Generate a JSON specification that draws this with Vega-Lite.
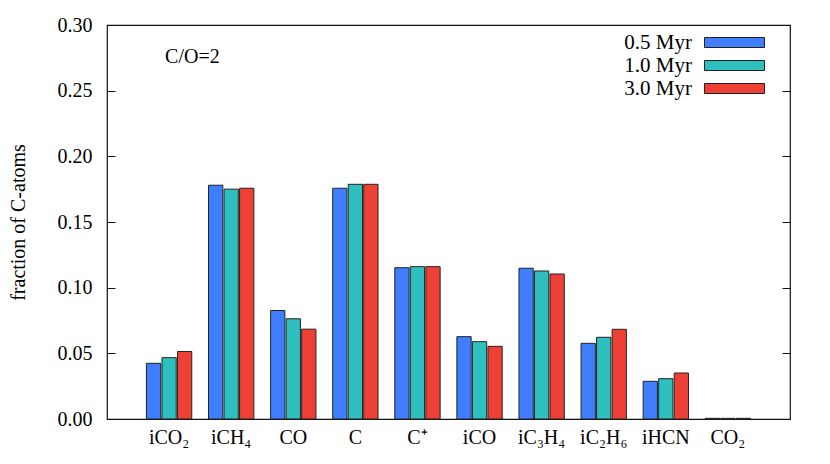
{
  "$schema": "https://vega.github.io/schema/vega-lite/v6.json",
  "autosize": {"type": "none"},
  "padding": {"left": 107, "top": 25, "right": 40, "bottom": 45},
  "width": 683,
  "height": 394,
  "background": "white",
  "config": {
    "view": {"stroke": "#111", "strokeWidth": 1.2},
    "font": "Liberation Serif",
    "axis": {"labelFont": "Liberation Serif", "titleFont": "Liberation Serif", "labelColor": "#000", "titleColor": "#000", "grid": false},
    "legend": {"labelFont": "Liberation Serif"}
  },
  "data": {
    "values": [
      {"species": "iCO₂", "epoch": "0.5 Myr", "value": 0.0424},
      {"species": "iCO₂", "epoch": "1.0 Myr", "value": 0.0467},
      {"species": "iCO₂", "epoch": "3.0 Myr", "value": 0.0514},
      {"species": "iCH₄", "epoch": "0.5 Myr", "value": 0.1780},
      {"species": "iCH₄", "epoch": "1.0 Myr", "value": 0.1750},
      {"species": "iCH₄", "epoch": "3.0 Myr", "value": 0.1757},
      {"species": "CO", "epoch": "0.5 Myr", "value": 0.0826},
      {"species": "CO", "epoch": "1.0 Myr", "value": 0.0763},
      {"species": "CO", "epoch": "3.0 Myr", "value": 0.0684},
      {"species": "C", "epoch": "0.5 Myr", "value": 0.1757},
      {"species": "C", "epoch": "1.0 Myr", "value": 0.1787},
      {"species": "C", "epoch": "3.0 Myr", "value": 0.1787},
      {"species": "C⁺", "epoch": "0.5 Myr", "value": 0.1152},
      {"species": "C⁺", "epoch": "1.0 Myr", "value": 0.1160},
      {"species": "C⁺", "epoch": "3.0 Myr", "value": 0.1160},
      {"species": "iCO", "epoch": "0.5 Myr", "value": 0.0627},
      {"species": "iCO", "epoch": "1.0 Myr", "value": 0.0589},
      {"species": "iCO", "epoch": "3.0 Myr", "value": 0.0553},
      {"species": "iC₃H₄", "epoch": "0.5 Myr", "value": 0.1148},
      {"species": "iC₃H₄", "epoch": "1.0 Myr", "value": 0.1127},
      {"species": "iC₃H₄", "epoch": "3.0 Myr", "value": 0.1104},
      {"species": "iC₂H₆", "epoch": "0.5 Myr", "value": 0.0576},
      {"species": "iC₂H₆", "epoch": "1.0 Myr", "value": 0.0622},
      {"species": "iC₂H₆", "epoch": "3.0 Myr", "value": 0.0683},
      {"species": "iHCN", "epoch": "0.5 Myr", "value": 0.0287},
      {"species": "iHCN", "epoch": "1.0 Myr", "value": 0.0307},
      {"species": "iHCN", "epoch": "3.0 Myr", "value": 0.0350},
      {"species": "CO₂", "epoch": "0.5 Myr", "value": 0.0005},
      {"species": "CO₂", "epoch": "1.0 Myr", "value": 0.0005},
      {"species": "CO₂", "epoch": "3.0 Myr", "value": 0.0005}
    ]
  },
  "layer": [
    {
      "mark": {"type": "bar", "stroke": "#222", "strokeWidth": 1},
      "encoding": {
        "x": {
          "field": "species", "type": "nominal", "sort": null,
          "scale": {"paddingInner": 0.27, "paddingOuter": 0.635},
          "axis": {"title": null, "ticks": false, "domain": false, "labelAngle": 0, "labelFontSize": 20, "labelPadding": 8}
        },
        "xOffset": {"field": "epoch", "type": "nominal", "scale": {"paddingInner": 0.08, "paddingOuter": 0}},
        "y": {
          "field": "value", "type": "quantitative",
          "scale": {"domain": [0, 0.3], "nice": false},
          "axis": {"title": "fraction of C-atoms", "values": [0, 0.05, 0.1, 0.15, 0.2, 0.25, 0.3], "format": ".2f", "labelFontSize": 20, "titleFontSize": 20, "titleFontWeight": "normal", "tickSize": -8, "tickColor": "#111", "labelPadding": 23, "titlePadding": 29, "domain": false}
        },
        "color": {
          "field": "epoch", "type": "nominal",
          "scale": {"domain": ["0.5 Myr", "1.0 Myr", "3.0 Myr"], "range": ["#3f7fff", "#2fbfbf", "#ee4035"]},
          "legend": {
            "title": null, "orient": "none", "legendX": 617, "legendY": 7,
            "symbolType": "M-3,-0.5L3,-0.5L3,0.5L-3,0.5Z", "symbolSize": 400,
            "symbolStrokeColor": "#222", "symbolStrokeWidth": 1, "symbolOpacity": 1,
            "labelAlign": "right", "labelOffset": -53, "labelFontSize": 21, "labelColor": "#000",
            "rowPadding": 1, "labelLimit": 200
          }
        }
      }
    },
    {
      "mark": {"type": "bar", "opacity": 0},
      "encoding": {
        "x": {"field": "species", "type": "nominal", "sort": null},
        "y": {"field": "value", "type": "quantitative", "axis": {"orient": "right", "labels": false, "title": null, "domain": false, "tickSize": -8, "tickColor": "#111", "values": [0, 0.05, 0.1, 0.15, 0.2, 0.25, 0.3]}}
      }
    },
    {
      "data": {"values": [{"label": "C/O=2", "species": "iCO₂", "value": 0.2757}]},
      "mark": {"type": "text", "align": "left", "baseline": "middle", "fontSize": 20, "font": "Liberation Serif", "dx": -4},
      "encoding": {
        "x": {"field": "species", "type": "nominal", "sort": null},
        "y": {"field": "value", "type": "quantitative", "axis": null},
        "text": {"field": "label"}
      }
    }
  ],
  "resolve": {"axis": {"y": "independent"}}
}
